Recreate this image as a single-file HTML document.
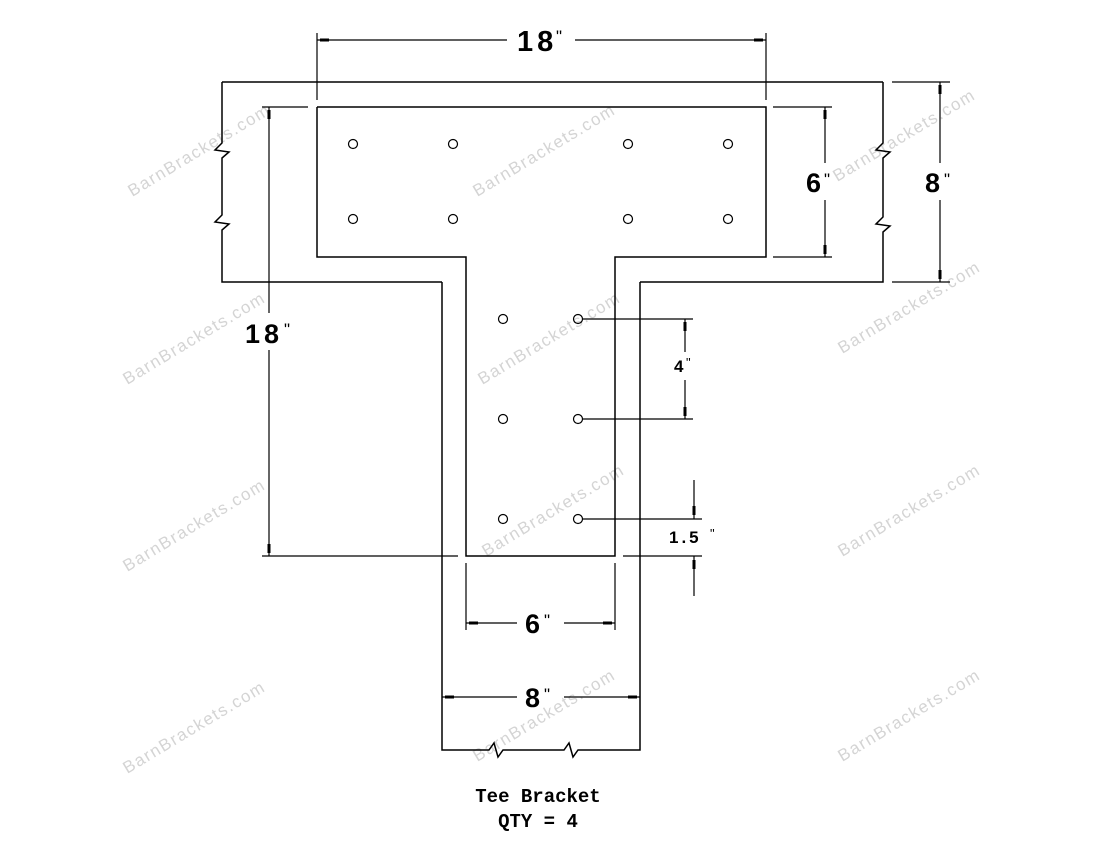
<!DOCTYPE html>
<html><head><meta charset="utf-8"><style>
html,body{margin:0;padding:0;background:#fff;}
svg{display:block;}
.wm{font-family:"Liberation Sans",sans-serif;font-size:17px;fill:#d4d4d4;letter-spacing:1.5px;}
.d{font-family:"Liberation Sans",sans-serif;font-weight:bold;fill:#000;}
.q{font-family:"Liberation Sans",sans-serif;font-size:17px;fill:#000;}
.qs{font-family:"Liberation Sans",sans-serif;font-size:13px;fill:#000;}
.t{font-family:"Liberation Mono",monospace;font-weight:bold;font-size:19px;fill:#000;}
</style></head><body>
<svg width="1100" height="850" viewBox="0 0 1100 850" xmlns="http://www.w3.org/2000/svg">
<g text-anchor="middle">
<text class="wm" transform="translate(202,155) rotate(-31)">BarnBrackets.com</text>
<text class="wm" transform="translate(197,343) rotate(-31)">BarnBrackets.com</text>
<text class="wm" transform="translate(197,530) rotate(-31)">BarnBrackets.com</text>
<text class="wm" transform="translate(197,732) rotate(-31)">BarnBrackets.com</text>
<text class="wm" transform="translate(547,155) rotate(-31)">BarnBrackets.com</text>
<text class="wm" transform="translate(552,343) rotate(-31)">BarnBrackets.com</text>
<text class="wm" transform="translate(556,515) rotate(-31)">BarnBrackets.com</text>
<text class="wm" transform="translate(547,720) rotate(-31)">BarnBrackets.com</text>
<text class="wm" transform="translate(907,140) rotate(-31)">BarnBrackets.com</text>
<text class="wm" transform="translate(912,312) rotate(-31)">BarnBrackets.com</text>
<text class="wm" transform="translate(912,515) rotate(-31)">BarnBrackets.com</text>
<text class="wm" transform="translate(912,720) rotate(-31)">BarnBrackets.com</text>
</g>
<g stroke="#000" stroke-width="1.5" fill="none">
<polyline points="222,82 883,82"/>
<polyline points="222,82 222,143 215,150 229,152 222,158 222,215 215,222 229,224 222,230 222,282 442,282"/>
<polyline points="883,82 883,143 876,150 890,152 883,158 883,217 876,224 890,226 883,232 883,282 640,282"/>
<polyline points="442,282 442,750 489,750 494,743 498,757 503,750 564,750 569,743 573,757 578,750 640,750 640,282"/>
<polyline points="317,107 766,107 766,257 615,257 615,556 466,556 466,257 317,257 317,107"/>
<g stroke-width="1.2">
<circle cx="353" cy="144" r="4.5"/><circle cx="453" cy="144" r="4.5"/><circle cx="628" cy="144" r="4.5"/><circle cx="728" cy="144" r="4.5"/>
<circle cx="353" cy="219" r="4.5"/><circle cx="453" cy="219" r="4.5"/><circle cx="628" cy="219" r="4.5"/><circle cx="728" cy="219" r="4.5"/>
<circle cx="503" cy="319" r="4.5"/><circle cx="578" cy="319" r="4.5"/>
<circle cx="503" cy="419" r="4.5"/><circle cx="578" cy="419" r="4.5"/>
<circle cx="503" cy="519" r="4.5"/><circle cx="578" cy="519" r="4.5"/>
</g>
<g stroke-width="1.2">
<line x1="317" y1="33" x2="317" y2="100"/><line x1="766" y1="33" x2="766" y2="100"/>
<line x1="317" y1="40" x2="507" y2="40"/><line x1="575" y1="40" x2="766" y2="40"/>
<line x1="262" y1="107" x2="308" y2="107"/>
<line x1="262" y1="556" x2="458" y2="556"/>
<line x1="269" y1="107" x2="269" y2="313"/><line x1="269" y1="350" x2="269" y2="556"/>
<line x1="773" y1="107" x2="832" y2="107"/><line x1="773" y1="257" x2="832" y2="257"/>
<line x1="825" y1="107" x2="825" y2="163"/><line x1="825" y1="200" x2="825" y2="257"/>
<line x1="892" y1="82" x2="950" y2="82"/><line x1="892" y1="282" x2="950" y2="282"/>
<line x1="940" y1="82" x2="940" y2="163"/><line x1="940" y1="200" x2="940" y2="282"/>
<line x1="583" y1="319" x2="693" y2="319"/><line x1="583" y1="419" x2="693" y2="419"/>
<line x1="685" y1="319" x2="685" y2="352"/><line x1="685" y1="380" x2="685" y2="419"/>
<line x1="583" y1="519" x2="702" y2="519"/><line x1="623" y1="556" x2="702" y2="556"/>
<line x1="694" y1="480" x2="694" y2="519"/><line x1="694" y1="556" x2="694" y2="596"/>
<line x1="466" y1="563" x2="466" y2="630"/><line x1="615" y1="563" x2="615" y2="630"/>
<line x1="466" y1="623" x2="517" y2="623"/><line x1="564" y1="623" x2="615" y2="623"/>
<line x1="442" y1="697" x2="517" y2="697"/><line x1="564" y1="697" x2="640" y2="697"/>
</g>
</g>
<g fill="#000">
<rect x="320" y="38.5" width="9" height="3"/><rect x="754" y="38.5" width="9" height="3"/>
<rect x="267.5" y="110" width="3" height="9"/><rect x="267.5" y="544" width="3" height="9"/>
<rect x="823.5" y="110" width="3" height="9"/><rect x="823.5" y="245" width="3" height="9"/>
<rect x="938.5" y="85" width="3" height="9"/><rect x="938.5" y="270" width="3" height="9"/>
<rect x="683.5" y="322" width="3" height="9"/><rect x="683.5" y="407" width="3" height="9"/>
<rect x="692.5" y="506" width="3" height="9"/><rect x="692.5" y="560" width="3" height="9"/>
<rect x="469" y="621.5" width="9" height="3"/><rect x="603" y="621.5" width="9" height="3"/>
<rect x="445" y="695.5" width="9" height="3"/><rect x="628" y="695.5" width="9" height="3"/>
</g>
<text class="d" x="517" y="51" font-size="29" letter-spacing="4">18</text><text class="q" x="556" y="42">"</text>
<text class="d" x="245" y="343" font-size="27" letter-spacing="4">18</text><text class="q" x="284" y="335">"</text>
<text class="d" x="806" y="192" font-size="27">6</text><text class="q" x="824" y="185">"</text>
<text class="d" x="925" y="192" font-size="27">8</text><text class="q" x="944" y="185">"</text>
<text class="d" x="674" y="372" font-size="17">4</text><text class="qs" x="686" y="367">"</text>
<text class="d" x="669" y="543" font-size="17" letter-spacing="3">1.5</text><text class="qs" x="710" y="538">"</text>
<text class="d" x="525" y="633" font-size="27">6</text><text class="q" x="544" y="626">"</text>
<text class="d" x="525" y="707" font-size="27">8</text><text class="q" x="544" y="700">"</text>
<text class="t" x="538" y="802" text-anchor="middle">Tee Bracket</text>
<text class="t" x="538" y="827" text-anchor="middle">QTY = 4</text>
</svg>
</body></html>
